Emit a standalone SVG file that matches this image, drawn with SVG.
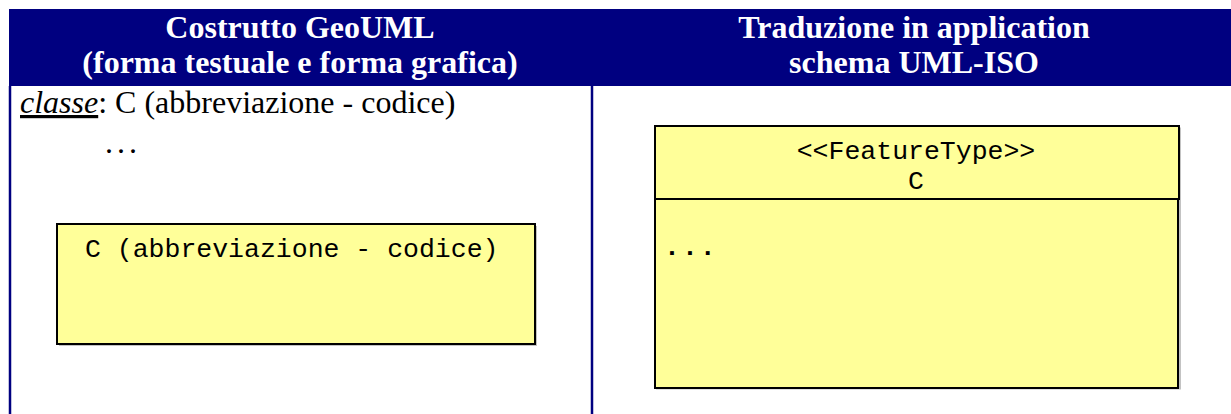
<svg xmlns="http://www.w3.org/2000/svg" width="1231" height="414" viewBox="0 0 1231 414">
<style>
.hdr{font-family:"Liberation Serif","Times New Roman",serif;font-weight:bold;font-size:32px;fill:#ffffff;text-anchor:middle}
.body{font-family:"Liberation Serif","Times New Roman",serif;font-size:32px;fill:#000000}
.mono{font-family:"Liberation Mono","Courier New",monospace;font-size:26.5px;fill:#000000}
.box{fill:#ffff99;stroke:#000000;stroke-width:2}
.rule{stroke:#000080;stroke-width:2.5}
</style>
<rect width="1231" height="414" fill="#ffffff"/>
<g id="table">
  <rect x="9" y="9" width="1222" height="77" fill="#000080"/>
  <line class="rule" x1="10" y1="86" x2="10" y2="414"/>
  <line class="rule" x1="592" y1="86" x2="592" y2="414"/>
</g>
<g id="header-left">
  <text class="hdr" x="300" y="38">Costrutto GeoUML</text>
  <text class="hdr" x="300" y="73">(forma testuale e forma grafica)</text>
</g>
<g id="header-right">
  <text class="hdr" x="914" y="38">Traduzione in application</text>
  <text class="hdr" x="914" y="73">schema UML-ISO</text>
</g>
<g id="textual-form">
  <text class="body" x="20" y="113"><tspan font-style="italic" text-decoration="underline">classe</tspan>: C (abbreviazione - codice)</text>
  <text class="body" x="105" y="153" letter-spacing="4">...</text>
</g>
<g id="geouml-class">
  <rect x="59" y="226" width="478" height="120" fill="#888888" opacity="0.5"/>
  <rect class="box" x="57" y="224" width="478" height="120"/>
  <text class="mono" x="85" y="257">C (abbreviazione - codice)</text>
</g>
<g id="iso-class">
  <rect x="656" y="127.5" width="525" height="262" fill="#888888" opacity="0.5"/>
  <rect class="box" x="655" y="126" width="524" height="73"/>
  <rect class="box" x="655" y="199" width="523" height="189"/>
  <text class="mono" x="916" y="159" text-anchor="middle">&lt;&lt;FeatureType&gt;&gt;</text>
  <text class="mono" x="916" y="189" text-anchor="middle">C</text>
  <text class="mono" x="664" y="255" font-weight="bold" letter-spacing="2">...</text>
</g>
<g id="connectors"/>
</svg>
